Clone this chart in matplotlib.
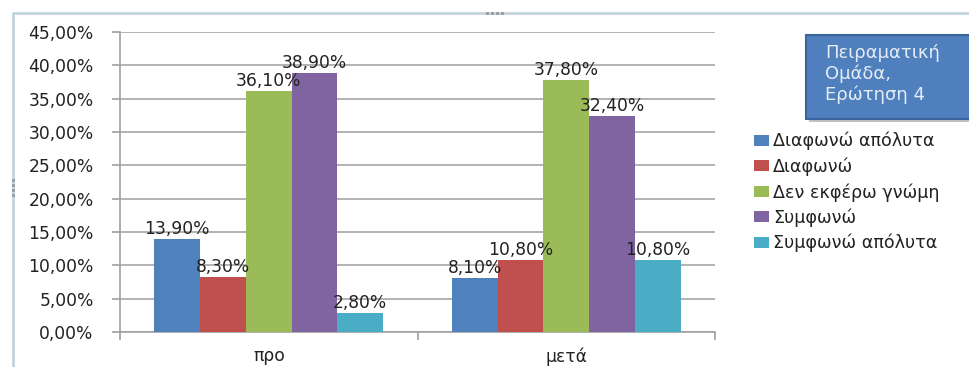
import matplotlib
matplotlib.use("Agg")
import matplotlib.pyplot as plt
from matplotlib.patches import Rectangle
from matplotlib.ticker import FuncFormatter, MultipleLocator
import numpy as np

plt.rcParams['font.family'] = ['DejaVu Sans']

categories = ["προ", "μετά"]
series_names = ["Διαφωνώ απόλυτα", "Διαφωνώ", "Δεν εκφέρω γνώμη",
                "Συμφωνώ", "Συμφωνώ απόλυτα"]
diafono_apolyta = [13.9, 8.1]
diafono = [8.3, 10.8]
den_ekfero = [36.1, 37.8]
symfono = [38.9, 32.4]
symfono_apolyta = [2.8, 10.8]
series_values = [diafono_apolyta, diafono, den_ekfero, symfono, symfono_apolyta]
colors = ["#4F81BD", "#C0504D", "#9BBB59", "#8064A2", "#4BACC6"]
box_title = "Πειραματική\nΟμάδα,\nΕρώτηση 4"

W, H = 969, 367
fig = plt.figure(figsize=(W / 100, H / 100), dpi=100)
fig.patch.set_facecolor("white")

# outer chart frame (runs past the bottom and right edges)
fig.patches.append(Rectangle((13 / W, -10 / H), (975 - 13) / W, (367 - 13 + 10) / H,
                             transform=fig.transFigure, fill=False,
                             edgecolor="#BCD0DA", linewidth=1.8))
# sizing handles on the frame
for k in range(4):
    fig.patches.append(Rectangle(((486 + 5 * k) / W, 1 - 15 / H), 3 / W, 3 / H,
                                 transform=fig.transFigure, facecolor="#9AA0A6",
                                 edgecolor="none"))
    fig.patches.append(Rectangle((12 / W, 1 - (182 + 5 * k) / H), 3 / W, 3 / H,
                                 transform=fig.transFigure, facecolor="#9AA0A6",
                                 edgecolor="none"))

ax = fig.add_axes([120 / W, 35 / H, (715 - 120) / W, 300 / H])
x = np.arange(len(categories))
n = len(series_values)
width = 1 / (n + 1.5)
text_color = "#222222"
fs = 12.3
for i, (name, vals, c) in enumerate(zip(series_names, series_values, colors)):
    pos = x + (i - (n - 1) / 2) * width
    ax.bar(pos, vals, width=width, color=c, label=name, zorder=3)
    for px, v in zip(pos, vals):
        ax.text(px, v + 1.5, f"{v:.2f}%".replace(".", ","), ha="center",
                va="center", fontsize=fs, color=text_color, zorder=4)

ax.set_xlim(-0.5, len(categories) - 0.5)
ax.set_ylim(0, 45)
ax.yaxis.set_major_locator(MultipleLocator(5))
ax.yaxis.set_major_formatter(FuncFormatter(lambda v, p: f"{v:.2f}%".replace(".", ",")))
ax.grid(axis="y", color="#A6A6A6", linewidth=1.2, zorder=0)
for s in ["top", "right"]:
    ax.spines[s].set_visible(False)
for s in ["left", "bottom"]:
    ax.spines[s].set_color("#A0A0A0")
    ax.spines[s].set_linewidth(1.2)
ax.tick_params(axis="y", length=6, width=1.2, color="#A0A0A0", pad=13,
               labelsize=fs, labelcolor=text_color)
ax.set_xticks(np.arange(-0.5, len(categories)), minor=False)
ax.set_xticklabels([])
ax.set_xticks(x, minor=True)
ax.set_xticklabels(categories, minor=True)
ax.tick_params(axis="x", which="major", length=6, width=1.2, color="#A0A0A0")
ax.tick_params(axis="x", which="minor", length=0, pad=11, labelsize=fs,
               labelcolor=text_color)

# title box (extends past the right edge)
bx0, by0, bx1, by1 = 806, 35, 985, 119
fig.patches.append(Rectangle(((bx0 + 3) / W, 1 - (by1 + 3) / H), (bx1 - bx0) / W,
                             (by1 - by0) / H, transform=fig.transFigure,
                             facecolor="#9A9A9A", edgecolor="none", alpha=0.6))
fig.patches.append(Rectangle((bx0 / W, 1 - by1 / H), (bx1 - bx0) / W, (by1 - by0) / H,
                             transform=fig.transFigure, facecolor="#4F7FBD",
                             edgecolor="#3A659E", linewidth=1.5))
fig.text(825 / W, 1 - 74 / H, box_title, ha="left", va="center", fontsize=13,
         color="#E4ECF6", linespacing=1.2)

leg = fig.legend(loc="upper left", bbox_to_anchor=(747 / W, 1 - 125 / H),
                 frameon=False, fontsize=12.6, handlelength=0.85, handleheight=0.6,
                 handletextpad=0.25, labelspacing=0.4, borderaxespad=0)
for t in leg.get_texts():
    t.set_color(text_color)

fig.savefig("out.png", dpi=100)
